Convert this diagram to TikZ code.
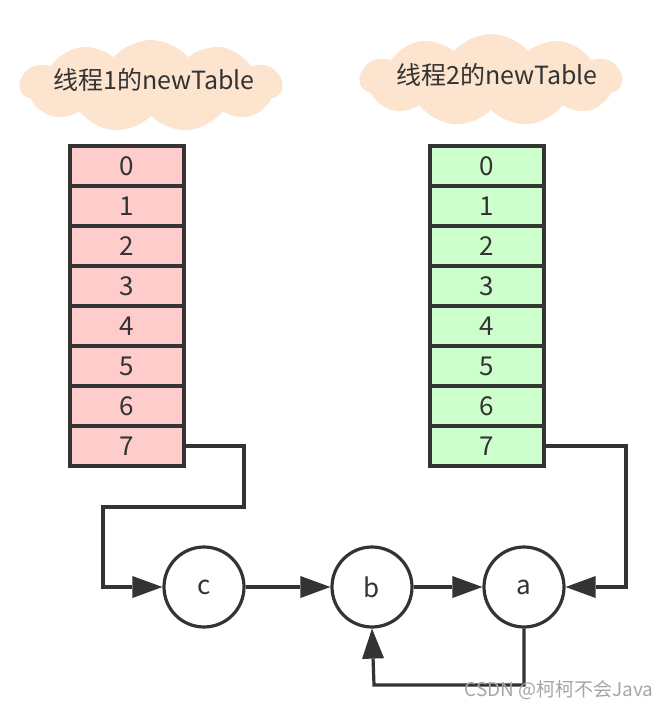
\documentclass[tikz,border=0pt]{standalone}
\usepackage{fontspec}
\setmainfont{Noto Sans CJK SC}
\usetikzlibrary{shapes.symbols,arrows.meta}
\definecolor{ln}{HTML}{333333}
\definecolor{pinkc}{HTML}{FFCCCC}
\definecolor{greenc}{HTML}{CCFFCC}
\definecolor{cloudc}{HTML}{FCE4CF}
\begin{document}
\begin{tikzpicture}[x=1pt,y=-1pt,
  cell/.style={draw=ln,line width=3.2pt,minimum width=114pt,minimum height=40pt,inner sep=0pt,outer sep=0pt,font=\fontsize{26}{28}\selectfont,text=ln},
  pcell/.style={cell,fill=pinkc},
  gcell/.style={cell,fill=greenc},
  puff/.style={cloud,cloud puffs=11,cloud puff arc=100,aspect=3,fill=cloudc,minimum width=262pt,minimum height=92pt,inner sep=0pt},
  circ/.style={circle,draw=ln,line width=3.2pt,minimum size=80pt,inner sep=0pt,fill=white,font=\fontsize{26}{28}\selectfont,text=ln},
  conn/.style={draw=ln,line width=3.2pt,-{Triangle[length=30pt,width=22pt,line width=0pt]}},
  lbl/.style={text=ln,font=\fontsize{25}{28}\selectfont}
]
\useasboundingbox (0,0) rectangle (670,714);
\fill[white] (0,0) rectangle (670,714);
\node[puff] (cl1) at (151,86) {};
\node[lbl] (t1) at (154,80) {线程1的newTable};
\node[puff] (cl2) at (491,80) {};
\node[lbl] (t2) at (497,75) {线程2的newTable};
\foreach \i in {0,...,7}{
  \node[pcell] (p\i) at (127,{166+40*\i}) {\i};
  \node[gcell] (g\i) at (487,{166+40*\i}) {\i};
}
\node[circ] (c) at (204,587) {c};
\node[circ] (b) at (372,587) {b};
\node[circ] (a) at (524,587) {a};
\draw[conn] (p7.east) -- (244,446) -- (244,507) -- (103,507) -- (103,587) -- (c.west);
\draw[conn] (c) -- (b);
\draw[conn] (b) -- (a);
\draw[conn] (g7.east) -- (626,446) -- (626,587) -- (a.east);
\draw[conn] (a.south) -- (524,685) -- (374,685) -- (b.south);
\node[text=gray!70,font=\fontsize{19}{21}\selectfont,anchor=east] (wm) at (657,690) {CSDN @柯柯不会Java};
\end{tikzpicture}
\end{document}
